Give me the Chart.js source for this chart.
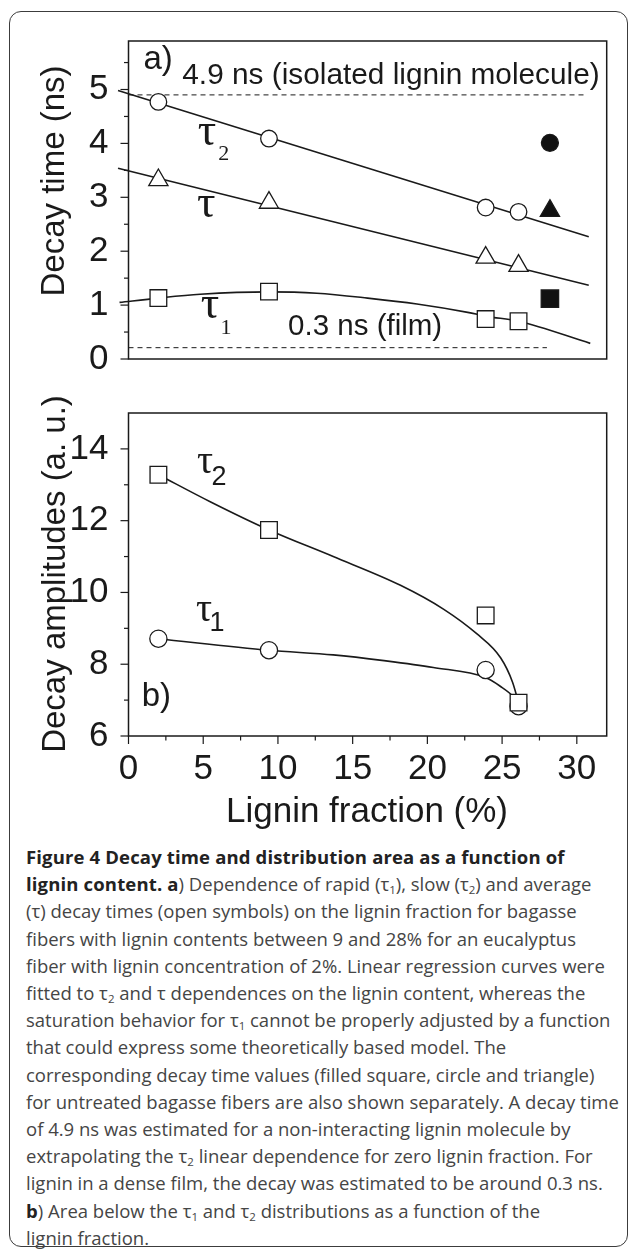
<!DOCTYPE html>
<html lang="en">
<head>
<meta charset="UTF-8">
<title>Figure 4 Decay time and distribution area as a function of lignin content</title>
<script src="https://cdn.jsdelivr.net/npm/chart.js"></script>
<style>
  body { margin: 0; background: #fff; width: 629px; height: 1249px; position: relative; overflow: hidden; }
  #frame { position: absolute; left: 9px; top: 11px; width: 619px; height: 1236px; border: 1.5px solid #3c3c3c;
           border-radius: 12px; box-sizing: border-box; }
  #topChart { position: absolute; left: 0; top: 0; }
  #bottomChart { position: absolute; left: 0; top: 372px; }
  .title { position: absolute; font-family: "Liberation Sans", Arial, sans-serif; font-size: 33px; color: #1a1a1a;
           white-space: nowrap; transform: translate(-50%, -50%); }
  .rot { transform: translate(-50%, -50%) rotate(-90deg); }
  #caption { position: absolute; left: 26px; top: 843px; font-family: "Open Sans", sans-serif; font-size: 18.5px;
             line-height: 27.2px; color: #454545; white-space: nowrap; letter-spacing: 0; }
  #caption b { color: #222; letter-spacing: 0.15px; }
  #caption sub { font-size: 0.62em; vertical-align: -0.25em; line-height: 0; }
</style>
</head>
<body>
<div id="frame"></div>
<canvas id="topChart" width="629" height="400"></canvas>
<canvas id="bottomChart" width="629" height="430"></canvas>
<div class="title rot" style="left:53px; top:181px;">Decay time (ns)</div>
<div class="title rot" style="left:54px; top:574px;">Decay amplitudes (a. u.)</div>
<div class="title" style="left:367px; top:810px; font-size:35px;">Lignin fraction (%)</div>
<div id="caption">
<b>Figure 4 Decay time and distribution area as a function of</b><br>
<b>lignin content. a</b>) Dependence of rapid (τ<sub>1</sub>), slow (τ<sub>2</sub>) and average<br>
(τ) decay times (open symbols) on the lignin fraction for bagasse<br>
fibers with lignin contents between 9 and 28% for an eucalyptus<br>
fiber with lignin concentration of 2%. Linear regression curves were<br>
fitted to τ<sub>2</sub> and τ dependences on the lignin content, whereas the<br>
saturation behavior for τ<sub>1</sub> cannot be properly adjusted by a function<br>
that could express some theoretically based model. The<br>
corresponding decay time values (filled square, circle and triangle)<br>
for untreated bagasse fibers are also shown separately. A decay time<br>
of 4.9 ns was estimated for a non-interacting lignin molecule by<br>
extrapolating the τ<sub>2</sub> linear dependence for zero lignin fraction. For<br>
lignin in a dense film, the decay was estimated to be around 0.3 ns.<br>
<b>b</b>) Area below the τ<sub>1</sub> and τ<sub>2</sub> distributions as a function of the<br>
lignin fraction.
</div>
<script>
// lignin fraction (%) of the treated samples
const ligninOpen = [2.0, 9.4, 23.9, 26.1];
// untreated bagasse fibers
const ligninUntreated = [28.2];

// a) decay times (ns)
const tau2Time = [4.77, 4.09, 2.81, 2.73];
const tauAvgTime = [3.32, 2.90, 1.88, 1.73];
const tau1Time = [1.13, 1.25, 0.74, 0.70];
const tau2Untreated = [4.01];
const tauAvgUntreated = [2.75];
const tau1Untreated = [1.12];

// a) fitted lines / curves
const tau2FitX = [-0.7, 30.8];
const tau2FitY = [4.98, 2.27];
const tauAvgFitX = [-0.7, 30.8];
const tauAvgFitY = [3.54, 1.37];
const tau1CurveX = [-0.6, 2.0, 4.8, 9.4, 12.6, 16.0, 19.3, 22.7, 24.0, 26.1, 30.9];
const tau1CurveY = [1.05, 1.13, 1.20, 1.245, 1.22, 1.13, 1.02, 0.865, 0.79, 0.70, 0.29];
const isolatedX = [0, 30.6];
const isolatedY = [4.9, 4.9];
const filmX = [0, 28.0];
const filmY = [0.21, 0.21];

// b) decay amplitudes (a. u.)
const tau2Amp = [13.28, 11.74, 9.36, 6.93];
const tau1Amp = [8.71, 8.39, 7.84, 6.83];
const tau2AmpCurveX = [2.0, 5.5, 9.4, 13.7, 18.2, 21.1, 23.3, 24.9, 25.7, 26.1];
const tau2AmpCurveY = [13.28, 12.52, 11.74, 11.0, 10.2, 9.53, 8.85, 8.18, 7.5, 6.93];
const tau1AmpCurveX = [2.0, 9.4, 13.7, 17.1, 20.4, 23.9, 24.9, 25.7, 26.1];
const tau1AmpCurveY = [8.71, 8.39, 8.26, 8.10, 7.91, 7.63, 7.38, 7.12, 6.91];

// axis ticks
const xTicks = [0, 5, 10, 15, 20, 25, 30];
const timeTicks = [0, 1, 2, 3, 4, 5];
const ampTicks = [6, 8, 10, 12, 14];

const INK = '#1a1a1a';
const SANS = '"Liberation Sans", Arial, sans-serif';
const SERIF = '"Liberation Serif", "Times New Roman", serif';

function pts(xs, ys) { return xs.map((x, i) => ({ x: x, y: ys[i] })); }

function markers(xs, ys, style, radius, fill) {
  return { data: pts(xs, ys), showLine: false, pointStyle: style, pointRadius: radius,
           pointBorderWidth: 1.3, pointBorderColor: INK, pointBackgroundColor: fill, order: 0 };
}
function line(xs, ys, opts) {
  return Object.assign({ data: pts(xs, ys), showLine: true, pointRadius: 0, borderColor: INK,
                         borderWidth: 1.6, clip: false, order: 5 }, opts || {});
}

// draws the panel box, outward tick marks and text labels
const panelDecor = {
  id: 'panelDecor',
  afterDatasetsDraw(chart, args, opts) {
    const ctx = chart.ctx, a = chart.chartArea;
    ctx.save();
    ctx.strokeStyle = INK;
    ctx.lineWidth = 1.5;
    ctx.strokeRect(a.left, a.top, a.right - a.left, a.bottom - a.top);
    ctx.lineWidth = 1.2;
    (opts.marks || []).forEach(m => {
      const s = chart.scales[m.axis];
      for (let k = 0; m.from + k * m.step <= m.to + 1e-9; k++) {
        const v = m.from + k * m.step;
        const major = Math.abs(v / m.major - Math.round(v / m.major)) < 1e-6;
        const len = major ? 8 : 4.5;
        const p = s.getPixelForValue(v);
        ctx.beginPath();
        if (m.axis === 'y') { ctx.moveTo(a.left, p); ctx.lineTo(a.left - len, p); }
        else { ctx.moveTo(p, a.bottom); ctx.lineTo(p, a.bottom + len); }
        ctx.stroke();
      }
    });
    (opts.texts || []).forEach(t => {
      ctx.font = t.font;
      ctx.fillStyle = INK;
      ctx.textAlign = t.align || 'left';
      ctx.textBaseline = 'middle';
      ctx.fillText(t.text, chart.scales.x.getPixelForValue(t.x), chart.scales.y.getPixelForValue(t.y));
    });
    ctx.restore();
  }
};

function tickFont() { return { family: '"Liberation Sans", Arial, sans-serif', size: 35 }; }

new Chart(document.getElementById('topChart'), {
  type: 'scatter',
  data: {
    datasets: [
      markers(ligninOpen, tau2Time, 'circle', 8.3, '#fff'),
      markers(ligninOpen, tauAvgTime, 'triangle', 11.1, '#fff'),
      markers(ligninOpen, tau1Time, 'rect', 11.8, '#fff'),
      markers(ligninUntreated, tau2Untreated, 'circle', 8.5, '#111'),
      markers(ligninUntreated, tauAvgUntreated, 'triangle', 11.1, '#111'),
      markers(ligninUntreated, tau1Untreated, 'rect', 12.3, '#111'),
      line(tau2FitX, tau2FitY),
      line(tauAvgFitX, tauAvgFitY),
      line(tau1CurveX, tau1CurveY, { cubicInterpolationMode: 'monotone' }),
      line(isolatedX, isolatedY, { borderDash: [5, 4], borderWidth: 1 }),
      line(filmX, filmY, { borderDash: [5, 4], borderWidth: 1 })
    ]
  },
  options: {
    responsive: false,
    animation: false,
    layout: { padding: { top: 29, right: 22.3, bottom: 19, left: 0 } },
    plugins: {
      legend: { display: false },
      tooltip: { enabled: false },
      panelDecor: {
        marks: [{ axis: 'y', from: 0, to: 5.5, step: 0.5, major: 1 }],
        texts: [
          { text: 'a)', x: 1.0, y: 5.55, font: '33px ' + SANS },
          { text: '4.9 ns (isolated lignin molecule)', x: 3.6, y: 5.26, font: '29.8px ' + SANS },
          { text: 'τ', x: 5.25, y: 4.2, font: '46px ' + SERIF, align: 'center' },
          { text: '2', x: 6.37, y: 3.8, font: '22px ' + SERIF, align: 'center' },
          { text: 'τ', x: 5.2, y: 2.85, font: '46px ' + SERIF, align: 'center' },
          { text: 'τ', x: 5.45, y: 0.98, font: '46px ' + SERIF, align: 'center' },
          { text: '1', x: 6.52, y: 0.57, font: '22px ' + SERIF, align: 'center' },
          { text: '0.3 ns (film)', x: 10.68, y: 0.6, font: '29.5px ' + SANS }
        ]
      }
    },
    scales: {
      x: { type: 'linear', min: 0, max: 32, display: false },
      y: {
        min: 0, max: 5.9,
        afterFit: s => { s.width = 128.5; },
        afterBuildTicks: s => { s.ticks = timeTicks.map(v => ({ value: v })); },
        grid: { display: false, drawTicks: false },
        border: { display: false },
        ticks: { padding: 20, font: tickFont(), color: INK }
      }
    }
  },
  plugins: [panelDecor]
});

new Chart(document.getElementById('bottomChart'), {
  type: 'scatter',
  data: {
    datasets: [
      markers(ligninOpen, tau2Amp, 'rect', 11.8, '#fff'),
      Object.assign(markers(ligninOpen, tau1Amp, 'circle', 8.6, '#fff'), { order: 1 }),
      line(tau2AmpCurveX, tau2AmpCurveY, { cubicInterpolationMode: 'monotone' }),
      line(tau1AmpCurveX, tau1AmpCurveY, { cubicInterpolationMode: 'monotone' })
    ]
  },
  options: {
    responsive: false,
    animation: false,
    layout: { padding: { top: 9, right: 22.3, bottom: 0, left: 0 } },
    plugins: {
      legend: { display: false },
      tooltip: { enabled: false },
      panelDecor: {
        marks: [
          { axis: 'y', from: 6, to: 14, step: 1, major: 2 },
          { axis: 'x', from: 0, to: 30, step: 2.5, major: 5 }
        ],
        texts: [
          { text: 'τ', x: 5.12, y: 13.63, font: '40px ' + SERIF, align: 'center' },
          { text: '2', x: 6.06, y: 13.2, font: '27px ' + SANS, align: 'center' },
          { text: 'τ', x: 5.05, y: 9.5, font: '40px ' + SERIF, align: 'center' },
          { text: '1', x: 5.92, y: 9.14, font: '27px ' + SANS, align: 'center' },
          { text: 'b)', x: 0.88, y: 7.09, font: '33px ' + SANS }
        ]
      }
    },
    scales: {
      x: {
        type: 'linear', min: 0, max: 32,
        afterFit: s => { s.height = 66; },
        afterBuildTicks: s => { s.ticks = xTicks.map(v => ({ value: v })); },
        grid: { display: false, drawTicks: false },
        border: { display: false },
        ticks: { padding: 12, font: tickFont(), color: INK, maxRotation: 0, autoSkip: false }
      },
      y: {
        min: 6, max: 15,
        afterFit: s => { s.width = 128.5; },
        afterBuildTicks: s => { s.ticks = ampTicks.map(v => ({ value: v })); },
        grid: { display: false, drawTicks: false },
        border: { display: false },
        ticks: { padding: 20, font: tickFont(), color: INK }
      }
    }
  },
  plugins: [panelDecor]
});
</script>
</body>
</html>
